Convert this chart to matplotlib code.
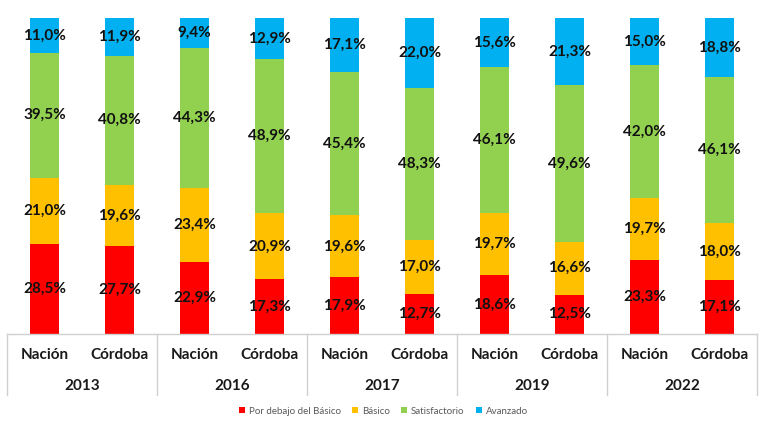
import matplotlib
matplotlib.use("Agg")
import matplotlib.pyplot as plt
from matplotlib.lines import Line2D
from matplotlib.patches import Patch

years = ["2013", "2016", "2017", "2019", "2022"]
places = ["Nación", "Córdoba"]
series_names = ["Por debajo del Básico", "Básico", "Satisfactorio", "Avanzado"]
colors = ["#FF0000", "#FFC000", "#92D050", "#00B0F0"]

debajo = [28.5, 27.7, 22.9, 17.3, 17.9, 12.7, 18.6, 12.5, 23.3, 17.1]
basico = [21.0, 19.6, 23.4, 20.9, 19.6, 17.0, 19.7, 16.6, 19.7, 18.0]
satisf = [39.5, 40.8, 44.3, 48.9, 45.4, 48.3, 46.1, 49.6, 42.0, 46.1]
avanz = [11.0, 11.9, 9.4, 12.9, 17.1, 22.0, 15.6, 21.3, 15.0, 18.8]
series = [debajo, basico, satisf, avanz]

plt.rcParams["font.family"] = ["Lato", "DejaVu Sans"]

W, H = 767, 423
fig = plt.figure(figsize=(W / 100, H / 100), dpi=100)
ax = fig.add_axes([7 / W, 1 - 334 / H, 750 / W, 316 / H])

x = list(range(len(debajo)))
bottom = [0.0] * len(x)
for vals, col in zip(series, colors):
    ax.bar(x, vals, bottom=bottom, width=0.39, color=col, zorder=2)
    for i, v in enumerate(vals):
        ax.text(i, bottom[i] + v / 2, ("%.1f%%" % v).replace(".", ","),
                ha="center", va="center", fontsize=11, fontweight="bold",
                color="#111111", zorder=3)
    bottom = [b + v for b, v in zip(bottom, vals)]

ax.set_xlim(-0.5, len(x) - 0.5)
ax.set_ylim(0, 100)
ax.axis("off")

# two level category axis
trans = ax.get_xaxis_transform()
ax.add_line(Line2D([-0.5, len(x) - 0.5], [0, 0], transform=trans,
                   color="#d0d0d0", lw=1, clip_on=False))
y_bottom = -(395 - 334) / 316
for k in range(len(years) + 1):
    xs = -0.5 + 2 * k
    ax.add_line(Line2D([xs, xs], [0, y_bottom], transform=trans,
                       color="#d0d0d0", lw=1, clip_on=False))
for i in x:
    ax.text(i, -(355 - 334) / 316, places[i % 2], transform=trans,
            ha="center", va="center", fontsize=11, fontweight="bold",
            color="#1a1a1a")
for k, yr in enumerate(years):
    ax.text(2 * k + 0.5, -(386 - 334) / 316, yr, transform=trans,
            ha="center", va="center", fontsize=11, fontweight="bold",
            color="#1a1a1a")

handles = [Patch(facecolor=c, label=n) for c, n in zip(colors, series_names)]
fig.legend(handles=handles, loc="center", bbox_to_anchor=(0.5, 1 - 411 / H),
           ncol=4, frameon=False, fontsize=7, handlelength=0.6,
           handleheight=0.6, handletextpad=0.4, columnspacing=1.2,
           labelcolor="#595959")

fig.savefig("out.png", dpi=100)
